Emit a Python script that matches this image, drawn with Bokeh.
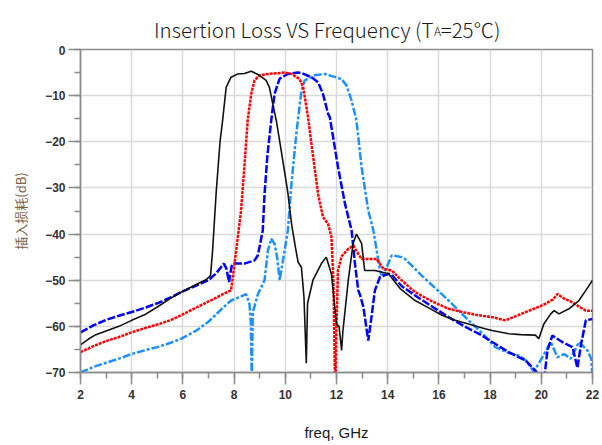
from bokeh.plotting import figure
from bokeh.models import FixedTicker, Range1d
from bokeh.layouts import column
from bokeh.core.properties import value
from bokeh.embed import file_html
from bokeh.resources import INLINE

# ---------------- data ----------------
black_f = [2.0, 2.3, 2.6, 3.0, 3.5, 4.0, 4.5, 5.0, 5.5, 6.0, 6.5, 6.9, 7.08, 7.16, 7.3, 7.45,
           7.55, 7.69, 7.88, 8.14, 8.4, 8.67, 8.93, 9.25, 9.38, 9.51, 9.65, 9.84, 10.1, 10.25,
           10.4, 10.5, 10.63, 10.73, 10.82, 10.87, 11.08, 11.41, 11.6, 11.8, 12.0, 12.1, 12.2,
           12.25, 12.46, 12.65, 12.78, 12.98, 13.1, 13.5, 14.03, 14.5, 15.07, 15.6, 16.12, 16.6,
           17.16, 17.8, 18.08, 18.73, 19.2, 19.77, 19.9, 20.1, 20.37, 20.5, 20.69, 21.08, 21.47,
           21.74, 22.0]
black_db = [-64.0, -62.8, -61.8, -61.0, -60.0, -58.7, -57.5, -55.8, -54.0, -52.4, -51.0, -49.9,
            -49.0, -43.6, -31.0, -20.0, -15.4, -8.2, -6.0, -5.3, -5.2, -4.7, -5.4, -6.7, -8.2,
            -11.8, -15.4, -21.9, -31.0, -38.0, -43.0, -46.1, -47.2, -53.7, -68.0, -55.0, -50.0,
            -46.4, -45.0, -48.6, -59.5, -60.0, -65.2, -61.0, -50.0, -42.0, -40.0, -42.0, -47.9,
            -47.9, -48.6, -51.9, -54.4, -56.0, -57.6, -58.6, -59.5, -60.5, -60.9, -61.6, -61.8,
            -61.9, -62.7, -59.5, -57.3, -56.6, -57.3, -56.2, -54.4, -52.2, -50.0]

red_f = [2.0, 2.5, 3.0, 3.5, 4.0, 4.5, 5.0, 5.5, 5.92, 6.5, 7.0, 7.23, 7.6, 7.88, 7.95, 8.08,
         8.27, 8.4, 8.53, 8.67, 8.8, 8.99, 9.32, 9.97, 10.24, 10.56, 10.7, 10.89, 11.02, 11.28,
         11.47, 11.67, 11.8, 11.88, 11.95, 12.0, 12.06, 12.2, 12.46, 12.65, 12.85, 12.98, 13.57,
         13.83, 14.16, 14.48, 15.07, 15.7, 16.38, 17.0, 17.55, 18.08, 18.6, 19.0, 19.39, 19.8,
         20.17, 20.45, 20.63, 20.9, 21.22, 21.5, 21.74, 22.0]
red_db = [-65.6, -64.3, -63.2, -62.3, -61.3, -60.4, -59.6, -58.7, -57.6, -56.0, -54.6, -54.0,
          -52.9, -52.2, -49.3, -43.6, -35.0, -25.5, -15.4, -9.6, -6.7, -5.6, -5.3, -5.0, -5.3,
          -6.4, -8.2, -14.7, -20.4, -31.3, -36.3, -37.8, -40.5, -50.0, -75.0, -60.0, -47.9,
          -44.8, -43.2, -42.5, -44.3, -45.4, -45.4, -47.5, -47.9, -49.7, -52.6, -54.5, -56.2,
          -57.0, -57.6, -58.0, -58.7, -57.8, -56.9, -56.0, -55.1, -54.2, -53.0, -54.0, -54.8,
          -55.8, -56.6, -56.6]

blue_f = [2.0, 2.5, 3.0, 3.5, 4.0, 4.5, 5.0, 5.5, 5.92, 6.5, 7.0, 7.3, 7.6, 7.7, 7.8, 7.9, 8.0,
          8.4, 8.8, 8.93, 9.12, 9.19, 9.3, 9.45, 9.58, 9.78, 10.1, 10.5, 10.63, 11.02, 11.28,
          11.47, 11.67, 11.74, 12.06, 12.33, 12.59, 12.72, 12.85, 12.92, 13.05, 13.24, 13.35,
          13.5, 13.7, 14.03, 14.15, 14.55, 15.07, 15.7, 16.38, 17.0, 17.69, 18.08, 18.73, 19.39,
          19.77, 20.1, 20.24, 20.43, 20.82, 21.22, 21.41, 21.55, 21.74, 22.0]
blue_db = [-61.3, -59.8, -58.6, -57.7, -56.9, -56.0, -55.0, -53.8, -52.6, -51.2, -50.0, -48.5,
           -46.4, -47.5, -50.4, -47.0, -46.4, -46.4, -45.7, -44.6, -39.2, -31.3, -23.0, -15.4,
           -9.6, -6.3, -5.3, -5.0, -5.1, -6.0, -7.1, -9.6, -13.9, -14.7, -25.5, -33.4, -39.2,
           -46.4, -52.2, -53.2, -55.8, -63.1, -58.7, -52.2, -49.3, -48.6, -48.8, -51.3, -53.3,
           -55.6, -58.0, -60.0, -62.0, -63.4, -65.6, -67.4, -69.6, -72.0, -65.2, -62.0, -63.4,
           -64.5, -69.0, -64.0, -58.7, -58.4]

lblue_f = [2.0, 2.5, 3.0, 3.5, 4.0, 4.5, 5.0, 5.5, 5.92, 6.5, 7.0, 7.5, 7.88, 8.2, 8.47, 8.6,
           8.65, 8.69, 8.73, 8.93, 9.19, 9.32, 9.45, 9.58, 9.68, 9.78, 9.91, 10.1, 10.24, 10.43,
           10.63, 10.76, 11.15, 11.54, 12.2, 12.39, 12.59, 12.78, 12.98, 13.24, 13.44, 13.57,
           13.7, 13.76, 13.96, 14.16, 14.55, 14.68, 15.33, 16.38, 17.16, 17.7, 18.2, 18.73,
           19.12, 19.4, 19.71, 20.04, 20.37, 20.63, 20.89, 21.15, 21.47, 21.8, 21.95, 22.0]
lblue_db = [-70.0, -68.8, -67.9, -67.0, -66.0, -65.2, -64.5, -63.6, -62.7, -61.0, -59.0, -56.3,
            -54.4, -53.7, -53.0, -55.1, -58.7, -72.0, -57.0, -53.0, -50.0, -43.6, -41.0, -42.1,
            -45.0, -50.0, -45.7, -39.2, -29.1, -18.3, -8.9, -6.7, -5.6, -5.3, -6.4, -7.8, -11.1,
            -15.4, -25.5, -34.9, -39.2, -43.6, -47.9, -48.9, -47.2, -44.6, -45.0, -45.4, -49.0,
            -54.4, -58.7, -61.5, -64.5, -65.8, -66.3, -67.4, -69.8, -66.7, -63.4, -66.7, -66.0,
            -67.0, -63.4, -65.2, -67.0, -71.0]

x_ticks = [2, 4, 6, 8, 10, 12, 14, 16, 18, 20, 22]
x_minor = list(range(2, 23))
y_ticks = [-70, -60, -50, -40, -30, -20, -10, 0]
y_minor = list(range(-70, 1, 5))

title_main = "Insertion Loss VS Frequency (T"
title_sub = "A"
title_tail = "=25℃)"
x_label = "freq, GHz"
y_label = "插入损耗(dB)"

W = 602
TITLE_H = 45
MAIN_H = 400

# ---------------- title strip ----------------
tp = figure(width=W, height=TITLE_H, output_backend="svg", toolbar_location=None, title=None,
            x_range=Range1d(0, W), y_range=Range1d(TITLE_H, 0),
            x_axis_type=None, y_axis_type=None, min_border=0,
            outline_line_color=None, background_fill_color="white", border_fill_color="white")
tfont = value("Noto Sans CJK SC Light")
x0 = 415
yb = 28
tp.text(x=[x0], y=[yb], text=[title_main], text_align="right", text_baseline="alphabetic",
        text_font=tfont, text_font_size=value("20.5px"), text_color="#1a1a1a")
tp.text(x=[x0 + 0.5], y=[yb + 2], text=[title_sub], text_align="left", text_baseline="alphabetic",
        text_font=tfont, text_font_size=value("12px"), text_color="#1a1a1a")
tp.text(x=[x0 + 8.5], y=[yb], text=[title_tail], text_align="left", text_baseline="alphabetic",
        text_font=tfont, text_font_size=value("20.5px"), text_color="#1a1a1a")

# ---------------- main plot ----------------
p = figure(width=W, height=MAIN_H, output_backend="svg", toolbar_location=None, title=None,
           x_range=Range1d(2, 22), y_range=Range1d(-70, 0),
           min_border_left=80, min_border_right=10, min_border_top=4, min_border_bottom=73,
           background_fill_color="white", border_fill_color="white")

p.outline_line_color = "#8c8c8c"
p.outline_line_width = 1.5

p.xaxis.ticker = FixedTicker(ticks=x_ticks, minor_ticks=x_minor)
p.yaxis.ticker = FixedTicker(ticks=y_ticks, minor_ticks=y_minor)

for ax in (p.xaxis[0], p.yaxis[0]):
    ax.axis_line_color = "#8c8c8c"
    ax.axis_line_width = 1.5
    ax.major_tick_line_color = "#8c8c8c"
    ax.major_tick_line_width = 1.5
    ax.minor_tick_line_color = "#8c8c8c"
    ax.minor_tick_line_width = 1.5
    ax.major_tick_in = 0
    ax.major_tick_out = 12
    ax.minor_tick_in = 0
    ax.minor_tick_out = 6
    ax.major_label_text_font = "Liberation Sans"
    ax.major_label_text_font_style = "bold"
    ax.major_label_text_font_size = "12px"
    ax.major_label_text_color = "#333333"
    ax.axis_label_text_font_style = "normal"

p.xaxis.major_label_standoff = 5
p.yaxis.major_label_standoff = 3
p.xaxis.axis_label = x_label
p.xaxis.axis_label_text_font = "Liberation Sans"
p.xaxis.axis_label_text_font_size = "15px"
p.xaxis.axis_label_text_color = "#1a1a1a"
p.xaxis.axis_label_standoff = 22

p.yaxis.axis_label = y_label
p.yaxis.axis_label_text_font = "Noto Sans CJK SC"
p.yaxis.axis_label_text_font_size = "13px"
p.yaxis.axis_label_text_color = "#7d6246"
p.yaxis.axis_label_standoff = 12

p.grid.grid_line_color = "#d9d9d9"
p.grid.grid_line_width = 1.5

p.line(lblue_f, lblue_db, line_color="#1E90FF", line_width=2.5, line_dash="8 2 3 2")
p.line(blue_f, blue_db, line_color="#0000FF", line_width=2.5, line_dash="8 2")
p.line(red_f, red_db, line_color="#FF0000", line_width=2.5, line_dash="3 1")
p.line(black_f, black_db, line_color="#111111", line_width=1.6)

layout = column(tp, p, spacing=0)
open("out.html", "w").write(file_html(layout, INLINE))
